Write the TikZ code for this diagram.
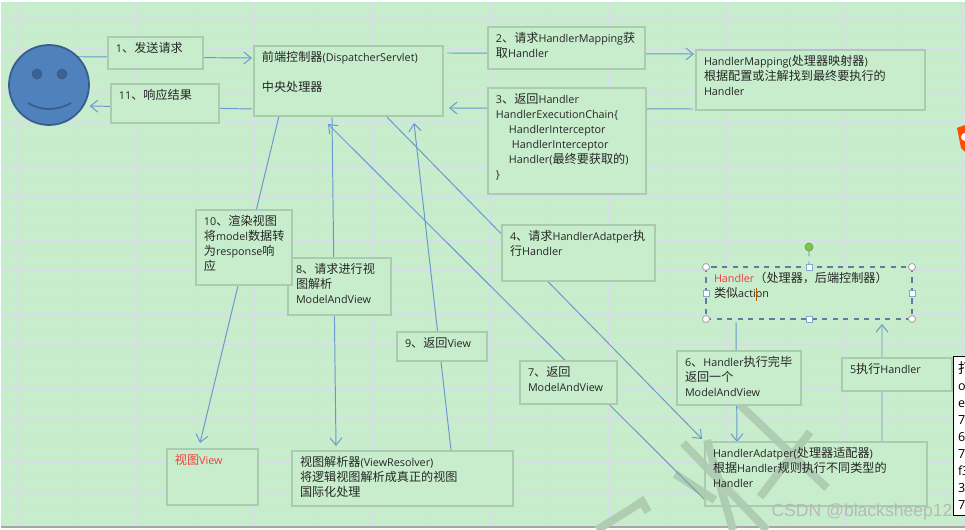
\documentclass[tikz,border=0pt]{standalone}
\usepackage{fontspec}
\setmainfont[Scale=0.89]{Open Sans}
\newfontfamily\cjk{Noto Sans CJK SC}
\newfontfamily\marksans{Liberation Sans}
\newcommand{\zh}[1]{{\cjk #1}}
\usetikzlibrary{arrows.meta,backgrounds}
\definecolor{sheet}{HTML}{C7EDCC}
\definecolor{gridc}{HTML}{D6DCE8}
\definecolor{edgec}{HTML}{ABCBAF}
\definecolor{flowc}{HTML}{6A97CF}
\definecolor{inkc}{HTML}{262626}
\definecolor{facec}{HTML}{4F81BD}
\definecolor{facel}{HTML}{385D8A}
\definecolor{stampc}{HTML}{AECDB3}
\definecolor{spinc}{HTML}{7AC943}
\definecolor{redc}{HTML}{F73B3B}
\tikzset{
  box/.style 2 args={draw=edgec, fill=sheet, line width=.65pt, anchor=north west, outer sep=0pt,
    inner xsep=.16cm, inner ysep=.1cm, align=left, text=inkc,
    text width=#1*0.02cm-0.32cm, text height=.22cm, text depth=#2*0.02cm-.42cm},
  flow/.style={draw=flowc, line width=.55pt},
  gridline/.style={draw=gridc, line width=.4pt},
  stamp/.style={draw=stampc, line width=.16cm},
  knob/.style={draw=gray!70, fill=white, line width=.5pt},
}
\begin{document}
\begin{tikzpicture}[x=0.02cm, y=-0.02cm, >={Straight Barb[length=1.5mm,width=2.4mm]},
    every node/.style={font=\fontsize{6.9}{8.5}\selectfont}]
  \useasboundingbox (0,0) rectangle (965,530);
  \begin{scope}[on background layer]
    \fill[gray!70] (1,4) rectangle (965,528);
    \fill[sheet] (1,2) rectangle (965,526);
    \foreach \k in {0,...,35}
      \draw[gridline] (1,{3.8+14.8*\k}) -- (965,{3.8+14.8*\k});
    \foreach \k in {0,...,16}
      \draw[gridline] ({18+59*\k},2) -- ({18+59*\k},526);
  \end{scope}

  % the person
  \node[circle, draw=facel, fill=facec, line width=1pt, minimum size=1.6cm, inner sep=0pt, outer sep=0pt] (face) at (49,85) {};
  \fill[facel!85!facec, draw=facel] ([shift={(-12,-11)}]face.center) circle (.1cm);
  \fill[facel!85!facec, draw=facel] ([shift={(13,-11)}]face.center) circle (.1cm);
  \draw[facel, line width=1pt] ([shift={(-21,18)}]face.center) .. controls ([shift={(-8,26)}]face.center) and ([shift={(8,26)}]face.center) .. ([shift={(22,18)}]face.center);

  % boxes
  \node[box={95}{32}] (b1) at (108,37) {1\zh{、发送请求}};
  \node[box={108}{39}] (b11) at (111,84) {11\zh{、响应结果}};
  \node[box={189}{70}] (disp) at (254,46) {\zh{前端控制器}(DispatcherServlet)\\[8.5pt]\zh{中央处理器}};
  \node[box={157}{42}] (b2) at (488,27) {2\zh{、请求}HandlerMapping\zh{获}\\\zh{取}Handler};
  \node[box={158}{106}] (b3) at (488,88) {3\zh{、返回}Handler\\HandlerExecutionChain\{\\\hspace*{.26cm}HandlerInterceptor\\\hspace*{.32cm}HandlerInterceptor\\\hspace*{.26cm}Handler(\zh{最终要获取的})\\\}};
  \node[box={229}{60}] (hm) at (696,50) {HandlerMapping(\zh{处理器映射器})\\\zh{根据配置或注解找到最终要执行的}\\Handler};
  \node[box={153}{56}] (b4) at (502,225) {4\zh{、请求}HandlerAdatper\zh{执}\\\zh{行}Handler};
  \node[box={206}{52}, draw=facel!80, dashed] (hdl) at (706,267) {\textcolor{redc}{Handler}\zh{（处理器，后端控制器）}\\\zh{类似}action};
  \node[box={103}{57}] (b8) at (288,258) {8\zh{、请求进行视}\\\zh{图解析}\\ModelAndView};
  \node[box={96}{75}] (b10) at (196,210) {10\zh{、渲染视图}\\\zh{将}model\zh{数据转}\\\zh{为}response\zh{响}\\\zh{应}};
  \node[box={90}{29}] (b9) at (397,332) {9\zh{、返回}View};
  \node[box={97}{43}] (b7) at (520,361) {7\zh{、返回}\\ModelAndView};
  \node[box={124}{54}] (b6) at (677,351) {6\zh{、}Handler\zh{执行完毕}\\\zh{返回一个}\\ModelAndView};
  \node[box={110}{33}] (b5) at (842,358) {5\zh{执行}Handler};
  \node[box={91}{56}, text=redc] (view) at (167,449) {\zh{视图}View};
  \node[box={221}{55}] (vr) at (292,451) {\zh{视图解析器}(ViewResolver)\\\zh{将逻辑视图解析成真正的视图}\\\zh{国际化处理}};
  \node[box={222}{64}, fill=none] (ha) at (705,442) {HandlerAdatper(\zh{处理器适配器})\\\zh{根据}Handler\zh{规则执行不同类型的}\\Handler};

  \begin{scope}[on background layer]
    % watermark strokes, under the text
    \fill[sheet] (ha.north west) rectangle (ha.south east);
    \draw[stamp] (737,402) -- (827,488);
    \draw[stamp] (810,432) -- (760,497);
    \draw[stamp] (683,443) -- (767,530);
    \draw[stamp] (707,440) -- (733,530);
    \draw[stamp] (675,474) -- (715,500);
    \draw[stamp] (597,530) -- (645,500);
    \draw[stamp] (640,498) -- (648,512);
    % connectors, behind the boxes
    \draw[flow, ->] (face.45) -- ([shift={(-2,12)}]disp.north west);
    \draw[flow, ->] ([shift={(-2,-7)}]disp.south west) -- ([shift={(6,1)}]face.-30);
    \draw[flow, ->] ([shift={(4,7)}]disp.north east) -- ([shift={(-2,4)}]hm.north west);
    \draw[flow, ->] ([shift={(-3,-1)}]hm.south west) -- ([shift={(6,-8)}]disp.south east);
    \draw[flow, ->] ([shift={(-58,-1)}]disp.south east) -- ([shift={(-3,-3)}]ha.north west);
    \draw[flow, ->] ([shift={(177,0)}]ha.north west) -- ([shift={(-30,5)}]hdl.south east);
    \draw[flow, ->] ([shift={(30,3)}]hdl.south west) -- ([shift={(32,0)}]ha.north west);
    \draw[flow, ->] ([shift={(1,-5)}]ha.south west) -- ([shift={(74,8)}]disp.south west);
    \draw[flow, ->] ([shift={(78,1)}]disp.south west) -- ([shift={(44,-5)}]vr.north west);
    \draw[flow, ->] ([shift={(159,-1)}]vr.north west) -- ([shift={(160,7)}]disp.south west);
    \draw[flow, ->] ([shift={(25,0)}]disp.south west) -- ([shift={(33,-6)}]view.north west);
  \end{scope}

  % selection handles of the Handler box
  \coordinate (spin) at (809,247);
  \draw[facel!80, dashed, line width=.5pt] (hdl.north) -- (spin);
  \fill[spinc, draw=gray!80!green] (spin) circle (.08cm);
  \foreach \a in {north west,north east,south west,south east}
    \draw[knob] (hdl.\a) circle (.07cm);
  \foreach \a in {north,south,east,west}
    \draw[knob, draw=facec!70] ([shift={(-3,-3)}]hdl.\a) rectangle ([shift={(3,3)}]hdl.\a);
  \draw[orange!70!black, line width=.4pt] (756,288) -- (756,301);

  % page furniture at the right edge
  \fill[orange!60!red] (957,128) -- (965,125) -- (965,152) -- (961,148) -- cycle;
  \fill[white] (965,137) circle (.08cm);
  \node[draw=black, fill=white, line width=.5pt, anchor=north west, outer sep=0pt, inner xsep=.1cm, inner ysep=.12cm,
    align=left, text width=.6cm, font=\fontsize{8}{9.64}\selectfont] (tip) at (953,356)
    {\zh{打}\\o\\e\\7\\6\\7\\f3\\3\\7};
  \node[font=\marksans\fontsize{10}{12}\selectfont, text=gray!55!white, inner sep=0pt] (mark) at (862,512) {CSDN @blacksheep12};
\end{tikzpicture}
\end{document}
